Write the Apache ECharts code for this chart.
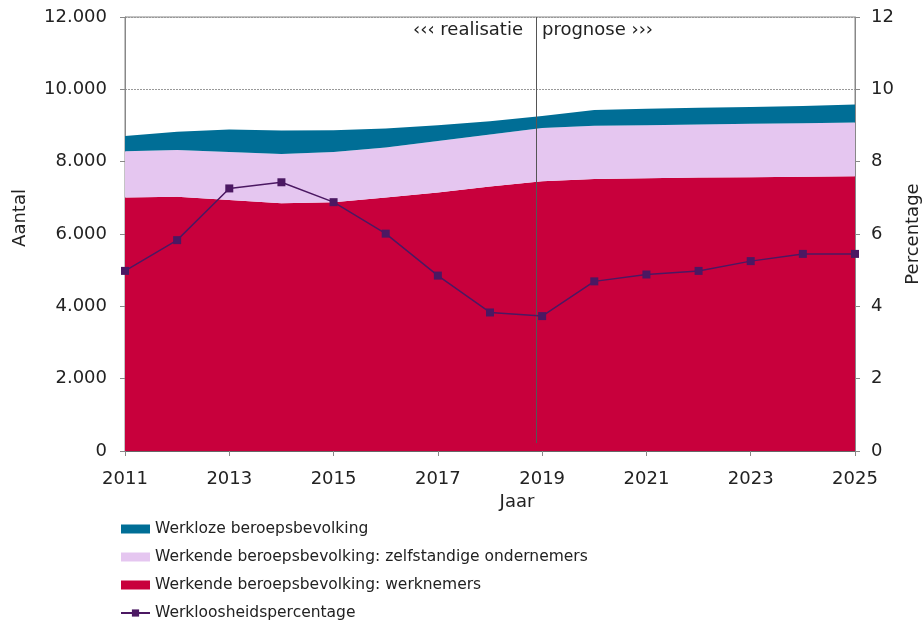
<!DOCTYPE html>
<html>
<head>
<meta charset="utf-8">
<script src="https://cdn.jsdelivr.net/npm/echarts@6/dist/echarts.min.js"></script>
<style>
  html, body { margin: 0; padding: 0; background: #fff; }
  #chart { width: 922px; height: 625px; }
</style>
</head>
<body>
<div id="chart"></div>
<script>
const years = ["2011", "2012", "2013", "2014", "2015", "2016", "2017", "2018", "2019", "2020", "2021", "2022", "2023", "2024", "2025"];
// stacked areas (x 1000 persons)
const werknemers = [7010, 7030, 6940, 6850, 6880, 7010, 7150, 7310, 7460, 7520, 7540, 7560, 7570, 7580, 7600];
const zelfstandigen = [1280, 1290, 1330, 1360, 1390, 1380, 1420, 1440, 1470, 1470, 1470, 1470, 1480, 1480, 1480];
const werklozen = [420, 510, 620, 650, 600, 530, 440, 370, 330, 440, 450, 460, 460, 480, 500];
// percentage, right axis
const werkloosheid = [4.98, 5.83, 7.26, 7.43, 6.88, 6.01, 4.85, 3.83, 3.73, 4.69, 4.88, 4.98, 5.25, 5.45, 5.45];
// realisatie / prognose boundary (index on the year axis)
const splitPos = 7.88;

const names = [
  "Werkloze beroepsbevolking",
  "Werkende beroepsbevolking: zelfstandige ondernemers",
  "Werkende beroepsbevolking: werknemers",
  "Werkloosheidspercentage",
];

const font = "DejaVu Sans";
const textColor = "#222";
const axisColor = "#888";

const chart = echarts.init(document.getElementById("chart"));

const option = {
  animation: false,
  textStyle: { fontFamily: font, color: textColor },
  grid: {
    left: 125,
    right: 67,
    top: 17,
    bottom: 174,
    outerBoundsMode: "none",
    show: true,
    borderColor: axisColor,
    borderWidth: 1,
  },
  legend: {
    orient: "vertical",
    left: 120,
    top: 521,
    height: 110,
    padding: 0,
    itemGap: 12,
    itemWidth: 29,
    itemHeight: 9,
    textStyle: { fontFamily: font, fontSize: 15.5, color: textColor },
    data: [
      { name: names[0], icon: "rect" },
      { name: names[1], icon: "rect" },
      { name: names[2], icon: "rect" },
      { name: names[3] },
    ],
  },
  xAxis: [
    {
      type: "category",
      boundaryGap: false,
      data: years,
      name: "Jaar",
      nameLocation: "middle",
      nameGap: 37,
      nameTextStyle: { fontFamily: font, fontSize: 18, color: textColor, padding: [0, 0, 0, 54] },
      axisLine: { show: true, lineStyle: { color: "#666" } },
      axisTick: { show: true, length: 5, interval: 1, lineStyle: { color: axisColor } },
      axisLabel: { fontFamily: font, fontSize: 18, color: textColor, margin: 19, interval: 1 },
      splitLine: { show: false },
    },
    {
      // hidden positional axis for the boundary line
      type: "value",
      min: 0,
      max: years.length - 1,
      show: false,
    },
  ],
  yAxis: [
    {
      type: "value",
      min: 0,
      max: 12000,
      interval: 2000,
      name: "Aantal",
      nameLocation: "middle",
      nameGap: 96,
      nameRotate: 90,
      nameTextStyle: { fontFamily: font, fontSize: 18, color: textColor, padding: [0, 0, 0, 32] },
      axisLine: { show: true, lineStyle: { color: axisColor } },
      axisTick: { show: true, length: 5, lineStyle: { color: axisColor } },
      axisLabel: {
        fontFamily: font,
        fontSize: 18,
        color: textColor,
        margin: 18,
        formatter: (v) => v.toLocaleString("de-DE"),
      },
      splitLine: { show: true, lineStyle: { color: "#999", type: [2, 1], width: 1 } },
    },
    {
      type: "value",
      min: 0,
      max: 12,
      interval: 2,
      name: "Percentage",
      nameLocation: "middle",
      nameGap: 41,
      nameRotate: 90,
      nameTextStyle: { fontFamily: font, fontSize: 18, color: textColor },
      axisLine: { show: true, lineStyle: { color: axisColor } },
      axisTick: { show: true, length: 5, lineStyle: { color: axisColor } },
      axisLabel: { fontFamily: font, fontSize: 18, color: textColor, margin: 16 },
      splitLine: { show: false },
    },
  ],
  series: [
    {
      name: names[2],
      type: "line",
      stack: "bb",
      symbol: "none",
      lineStyle: { width: 0 },
      itemStyle: { color: "#C8003C" },
      areaStyle: { color: "#C8003C", opacity: 1 },
      data: werknemers,
    },
    {
      name: names[1],
      type: "line",
      stack: "bb",
      symbol: "none",
      lineStyle: { width: 0 },
      itemStyle: { color: "#E5C6F0" },
      areaStyle: { color: "#E5C6F0", opacity: 1 },
      data: zelfstandigen,
    },
    {
      name: names[0],
      type: "line",
      stack: "bb",
      symbol: "none",
      lineStyle: { width: 0 },
      itemStyle: { color: "#006E96" },
      areaStyle: { color: "#006E96", opacity: 1 },
      data: werklozen,
    },
    {
      name: names[3],
      type: "line",
      yAxisIndex: 1,
      symbol: "rect",
      symbolSize: 8,
      z: 5,
      lineStyle: { color: "#4B1862", width: 1.5 },
      itemStyle: { color: "#4B1862" },
      data: werkloosheid,
    },
    {
      name: "grens",
      type: "line",
      xAxisIndex: 1,
      yAxisIndex: 0,
      data: [],
      markLine: {
        silent: true,
        symbol: "none",
        label: { show: false },
        lineStyle: { color: "#555", width: 1, type: "solid" },
        data: [[{ coord: [splitPos, 220] }, { coord: [splitPos, 12000] }]],
      },
    },
  ],
  graphic: [
    {
      type: "text",
      right: 922 - 523,
      top: 21,
      style: { text: "‹‹‹ realisatie", font: "18px " + font, fill: textColor },
    },
    {
      type: "text",
      left: 542,
      top: 21,
      style: { text: "prognose ›››", font: "18px " + font, fill: textColor },
    },
  ],
};

chart.setOption(option);
</script>
</body>
</html>
